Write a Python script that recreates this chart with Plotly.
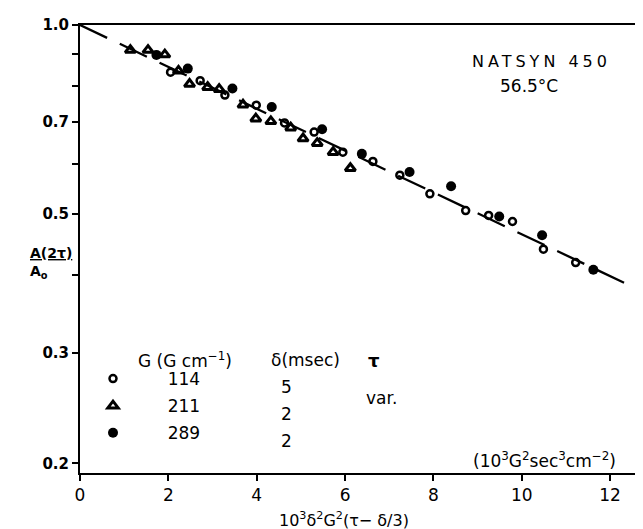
import numpy as np
import plotly.graph_objects as go

# ---- data ----
x_114 = [2.05, 2.72, 3.28, 3.99, 4.63, 5.30, 5.95, 6.63, 7.24, 7.92, 8.73, 9.25, 9.79, 10.49, 11.22]
y_114 = [0.841, 0.815, 0.773, 0.745, 0.698, 0.675, 0.627, 0.606, 0.576, 0.538, 0.506, 0.497, 0.486, 0.439, 0.418]

x_211 = [1.14, 1.54, 1.92, 2.23, 2.48, 2.89, 3.15, 3.69, 3.98, 4.32, 4.77, 5.05, 5.37, 5.73, 6.12]
y_211 = [0.912, 0.912, 0.897, 0.845, 0.805, 0.796, 0.790, 0.746, 0.709, 0.702, 0.686, 0.659, 0.648, 0.627, 0.591]

x_289 = [1.73, 2.44, 3.45, 4.34, 5.48, 6.38, 7.46, 8.40, 9.49, 10.46, 11.62]
y_289 = [0.896, 0.852, 0.792, 0.740, 0.682, 0.623, 0.583, 0.553, 0.495, 0.462, 0.407]

fit_x = [0.0, 12.56]
fit_y = [1.0, 0.381]

x_ticks = [0, 2, 4, 6, 8, 10, 12]
y_major = [0.2, 0.3, 0.5, 0.7, 1.0]
y_major_text = ["0.2", "0.3", "0.5", "0.7", "1.0"]
y_minor = [0.4, 0.6, 0.8, 0.9]
y_all = [0.2, 0.3, 0.4, 0.5, 0.6, 0.7, 0.8, 0.9, 1.0]

series_names = ["114", "211", "289"]

FONT = "DejaVu Sans"
BLACK = "black"
W, H = 643, 529
PAD = "\u2007\u2007"  # figure spaces: gap between key symbol and label

fig = go.Figure()

fig.add_trace(go.Scatter(
    x=fit_x, y=fit_y, mode="lines", showlegend=False,
    line=dict(color=BLACK, width=2.3, dash="30px,14px"), hoverinfo="skip"))

fig.add_trace(go.Scatter(
    x=x_114, y=y_114, mode="markers", name=PAD + series_names[0], legendgroup="a",
    marker=dict(symbol="circle-open", size=7, color=BLACK, line=dict(width=2.5, color=BLACK))))
fig.add_trace(go.Scatter(
    x=x_211, y=y_211, mode="markers", name=PAD + series_names[1], legendgroup="b",
    marker=dict(symbol="triangle-up-open", size=9, color=BLACK, line=dict(width=3, color=BLACK))))
fig.add_trace(go.Scatter(
    x=x_289, y=y_289, mode="markers", name=PAD + series_names[2], legendgroup="c",
    marker=dict(symbol="circle", size=10, color=BLACK)))

# empty trace to carry the right-hand (inside-tick) axis
fig.add_trace(go.Scatter(x=[], y=[], yaxis="y2", showlegend=False, hoverinfo="skip"))

y_range = [np.log10(0.193), 0.0]

def px_x(p):
    return (p - 72) / 569.0

def px_y(p):
    return 1 - (p - 17) / 448.0

fig.update_layout(
    width=W, height=H,
    margin=dict(l=72, r=2, t=17, b=64, autoexpand=False),
    paper_bgcolor="white", plot_bgcolor="white",
    font=dict(family=FONT, color=BLACK, size=16),
    xaxis=dict(range=[0, 12.88], tickvals=x_ticks, showline=True, linecolor=BLACK,
               linewidth=2, mirror=True, ticks="outside", ticklen=6, tickwidth=2,
               tickcolor=BLACK, showgrid=False, zeroline=False, automargin=False,
               tickfont=dict(family=FONT, size=17, color=BLACK)),
    yaxis=dict(type="log", range=y_range, tickvals=y_major, ticktext=y_major_text,
               showline=True, linecolor=BLACK, linewidth=2, mirror=True,
               ticks="outside", ticklen=6, tickwidth=2, tickcolor=BLACK,
               minor=dict(tickvals=y_minor, ticks="outside", ticklen=6, tickwidth=2,
                          tickcolor=BLACK, showgrid=False),
               showgrid=False, zeroline=False, automargin=False,
               tickfont=dict(family=FONT, size=15, color=BLACK, weight="bold")),
    yaxis2=dict(type="log", range=y_range, overlaying="y", side="right",
                tickvals=y_all, showticklabels=False, showline=False,
                ticks="inside", ticklen=6, tickwidth=2, tickcolor=BLACK,
                showgrid=False, zeroline=False, automargin=False),
    legend=dict(x=0.0, y=px_y(353), xanchor="left", yanchor="top",
                traceorder="grouped", tracegroupgap=2,
                bgcolor="rgba(0,0,0,0)", borderwidth=0, itemwidth=56,
                font=dict(family=FONT, size=17, color=BLACK)),
)

ann = [
    ('<span style="letter-spacing:4px">NATSYN 450</span>', 533, 53, "center", 16),
    ("56.5°C", 521, 78, "center", 17),
    ("G (G cm<sup>−1</sup>)", 177, 352, "center", 17),
    ("δ(msec)", 297, 352, "center", 17),
    ("<b>τ</b>", 366, 352, "center", 18),
    ("5", 278, 379, "center", 17),
    ("2", 278, 406, "center", 17),
    ("2", 278, 433, "center", 17),
    ("var.", 373, 390, "center", 17),
]
for text, ax, ay, anchor, size in ann:
    fig.add_annotation(text=text, x=px_x(ax), y=px_y(ay), xref="paper", yref="paper",
                       xanchor=anchor, yanchor="middle", showarrow=False,
                       font=dict(family=FONT, size=size, color=BLACK))

fig.add_annotation(text="(10<sup>3</sup>G<sup>2</sup>sec<sup>3</sup>cm<sup>−2</sup>)",
                   x=px_x(610), y=px_y(452), xref="paper", yref="paper",
                   xanchor="right", yanchor="middle", showarrow=False,
                   font=dict(family=FONT, size=17, color=BLACK))

fig.add_annotation(text="10<sup>3</sup>δ<sup>2</sup>G<sup>2</sup>(τ− δ/3)",
                   x=px_x(336), y=px_y(511), xref="paper", yref="paper",
                   xanchor="center", yanchor="middle", showarrow=False,
                   font=dict(family=FONT, size=16, color=BLACK))

fig.add_annotation(text="<b><u>A(2τ)</u></b><br><b>A<sub>o</sub></b>",
                   x=px_x(20), y=px_y(255), xref="paper", yref="paper",
                   xanchor="left", yanchor="middle", align="left", showarrow=False,
                   font=dict(family=FONT, size=14, color=BLACK))

fig.write_html("out.html")
